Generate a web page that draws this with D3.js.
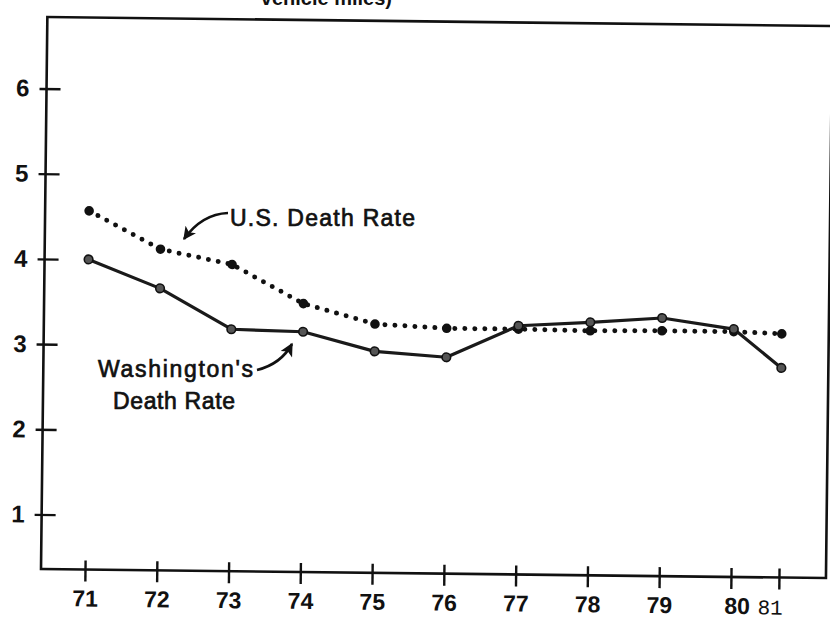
<!DOCTYPE html>
<html>
<head>
<meta charset="utf-8">
<script src="https://cdn.jsdelivr.net/npm/d3@7"></script>
<style>
  html, body { margin: 0; padding: 0; background: #fff; }
  svg { display: block; }
</style>
</head>
<body>
<svg id="chart" width="830" height="620"></svg>
<script>
// ---- data ----
const years = [71, 72, 73, 74, 75, 76, 77, 78, 79, 80, 81];
const usRate = [4.57, 4.13, 3.96, 3.51, 3.28, 3.24, 3.24, 3.23, 3.24, 3.24, 3.22];
const waRate = [4.00, 3.67, 3.20, 3.18, 2.96, 2.90, 3.28, 3.33, 3.39, 3.27, 2.82];
const yTicks = [1, 2, 3, 4, 5, 6];
const xTickLabels = ["71", "72", "73", "74", "75", "76", "77", "78", "79", "80", "81"];
const usLabel = "U.S. Death Rate";
const waLabel = ["Washington's", "Death Rate"];
const unitsText = "vehicle miles)";

(function () {
// ---- layout ----
const svg = d3.select("#chart");
const padL = 41, padB = 569, padR = 826, padT = 17;
const tilt = 0.66; // scanned page is slightly rotated

const x = d3.scaleLinear().domain([71, 80, 81]).range([85, 731, 779]);
const y = d3.scaleLinear().domain([1, 6]).range([514.5, 88.5]);

svg.append("rect").attr("width", 830).attr("height", 620).attr("fill", "#fff");

// cut-off units line at very top (cropped in the reference too)
svg.append("text")
  .attr("x", 392).attr("y", 5)
  .attr("text-anchor", "end")
  .attr("font-family", "Liberation Sans, Arial, sans-serif")
  .attr("font-weight", "bold")
  .attr("font-size", 20)
  .attr("fill", "#111")
  .text(unitsText);

const g = svg.append("g").attr("transform", `rotate(${tilt}, ${padL}, ${padB})`);

// frame
g.append("rect")
  .attr("x", padL).attr("y", padT)
  .attr("width", padR - padL).attr("height", padB - padT)
  .attr("fill", "none").attr("stroke", "#111").attr("stroke-width", 2.6);

const tickFont = "Liberation Sans, Arial, Helvetica, sans-serif";

// y axis
const yAxis = g.append("g")
  .attr("transform", `translate(${padL},0)`)
  .call(d3.axisLeft(y).tickValues(yTicks).tickFormat(d3.format("d"))
        .tickSizeInner(7).tickSizeOuter(0).tickPadding(10));
yAxis.select(".domain").remove();
yAxis.selectAll(".tick line").attr("x1", 14).attr("stroke", "#111").attr("stroke-width", 2.4);
yAxis.selectAll(".tick text")
  .attr("font-family", tickFont).attr("font-weight", "bold")
  .attr("font-size", 24).attr("fill", "#111");

// x axis
const labelShift = {80: 6, 81: -9};
const xAxis = g.append("g")
  .attr("transform", `translate(0,${padB})`)
  .call(d3.axisBottom(x).tickValues(years).tickFormat((d, i) => xTickLabels[i])
        .tickSizeInner(12).tickSizeOuter(0));
xAxis.select(".domain").remove();
xAxis.selectAll(".tick line").attr("y1", -9).attr("stroke", "#111").attr("stroke-width", 2.4);
xAxis.selectAll(".tick text")
  .attr("y", 37).attr("dy", null)
  .attr("dx", d => labelShift[d] || 0)
  .attr("font-family", d => d === 81 ? "Liberation Mono, DejaVu Sans Mono, monospace" : tickFont)
  .attr("font-weight", d => d === 81 ? "normal" : "bold")
  .attr("font-size", d => d === 81 ? 21 : 23)
  .attr("fill", "#111");

// U.S. dotted line
const usData = years.map((yr, i) => [yr, usRate[i]]);
const waData = years.map((yr, i) => [yr, waRate[i]]);
const line = d3.line().x(d => x(d[0])).y(d => y(d[1]));

g.append("path")
  .datum(usData)
  .attr("d", line)
  .attr("fill", "none")
  .attr("stroke", "#111")
  .attr("stroke-width", 5)
  .attr("stroke-linecap", "round")
  .attr("stroke-dasharray", "0 10");

g.selectAll("circle.us").data(usData).enter().append("circle")
  .attr("class", "us")
  .attr("cx", d => x(d[0])).attr("cy", d => y(d[1]))
  .attr("r", 4.8).attr("fill", "#111");

// Washington solid line
g.append("path")
  .datum(waData)
  .attr("d", line)
  .attr("fill", "none")
  .attr("stroke", "#1a1a1a")
  .attr("stroke-width", 3.2)
  .attr("stroke-linejoin", "round");

g.selectAll("circle.wa").data(waData).enter().append("circle")
  .attr("class", "wa")
  .attr("cx", d => x(d[0])).attr("cy", d => y(d[1]))
  .attr("r", 4.3).attr("fill", "#555").attr("stroke", "#111").attr("stroke-width", 1.6);

// ---- annotations ----
const annFont = "Liberation Sans, Arial, Helvetica, sans-serif";
function ann(tx, ty, len, str) {
  svg.append("text")
    .attr("x", tx).attr("y", ty)
    .attr("font-family", annFont).attr("font-size", 23).attr("fill", "#111")
    .attr("stroke", "#111").attr("stroke-width", 0.7)
    .attr("textLength", len).attr("lengthAdjust", "spacing")
    .text(str);
}
ann(230, 226, 185, usLabel);
ann(98, 377, 155, waLabel[0]);
ann(113, 409, 122, waLabel[1]);

// arrows
const defs = svg.append("defs");
defs.append("marker")
  .attr("id", "ah")
  .attr("viewBox", "0 0 10 10")
  .attr("refX", 9).attr("refY", 5)
  .attr("markerWidth", 5.5).attr("markerHeight", 5)
  .attr("markerUnits", "strokeWidth")
  .attr("orient", "auto")
  .append("path").attr("d", "M0,0 L10,5 L0,10 L2.5,5 Z").attr("fill", "#111");

svg.append("path")
  .attr("d", "M228,213 Q202,214 184,239")
  .attr("fill", "none").attr("stroke", "#111").attr("stroke-width", 2.6)
  .attr("marker-end", "url(#ah)");
svg.append("path")
  .attr("d", "M257,370 Q281,364 292,344")
  .attr("fill", "none").attr("stroke", "#111").attr("stroke-width", 2.6)
  .attr("marker-end", "url(#ah)");
})();
</script>
</body>
</html>
